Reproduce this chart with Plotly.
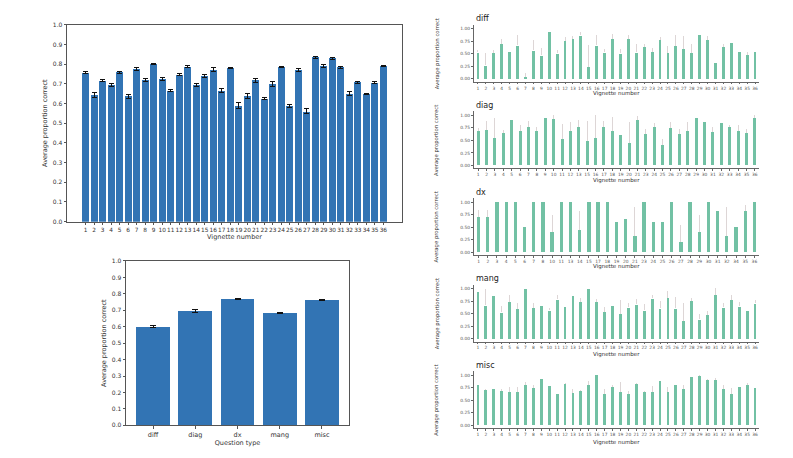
import plotly.graph_objects as go

# the page body keeps its default 8px margin, so the figure is drawn 16px smaller
# and every position below is given in page pixels and shifted by that margin
PAGE_W, PAGE_H = 793, 458
PAD = 8
W, H = PAGE_W - 2 * PAD, PAGE_H - 2 * PAD

# overall accuracy per vignette (top left)
vignettes = list(range(1, 37))
overall_mean = [0.758, 0.642, 0.718, 0.695, 0.760, 0.638, 0.776, 0.719, 0.801, 0.724,
                0.665, 0.748, 0.787, 0.693, 0.740, 0.773, 0.667, 0.781, 0.590, 0.640,
                0.719, 0.625, 0.701, 0.786, 0.588, 0.769, 0.560, 0.836, 0.790, 0.830,
                0.785, 0.652, 0.708, 0.648, 0.706, 0.792]
overall_err = [0.004, 0.012, 0.005, 0.006, 0.005, 0.010, 0.006, 0.006, 0.004, 0.006,
               0.004, 0.004, 0.005, 0.009, 0.010, 0.010, 0.009, 0.004, 0.015, 0.012,
               0.010, 0.004, 0.012, 0.004, 0.009, 0.008, 0.013, 0.005, 0.008, 0.005,
               0.005, 0.009, 0.006, 0.003, 0.004, 0.003]

# accuracy per question type (bottom left)
qtypes = ["diff", "diag", "dx", "mang", "misc"]
qtype_mean = [0.601, 0.693, 0.768, 0.685, 0.760]
qtype_err = [0.004, 0.009, 0.005, 0.004, 0.003]

# per question type, per vignette (right column)
diff_vig = list(range(1, 37))
diff_mean = [0.53, 0.27, 0.52, 0.70, 0.55, 0.67, 0.04, 0.57, 0.47, 0.95, 0.51, 0.76,
             0.80, 0.87, 0.24, 0.67, 0.53, 0.80, 0.51, 0.80, 0.53, 0.64, 0.54, 0.78,
             0.52, 0.66, 0.60, 0.52, 0.88, 0.78, 0.33, 0.64, 0.72, 0.55, 0.48, 0.55]
diff_err = [0.05, 0.25, 0.06, 0.09, 0, 0.20, 0.07, 0.20, 0.14, 0, 0.06, 0.07,
            0.06, 0.07, 0.44, 0.20, 0.06, 0.09, 0.08, 0.07, 0.16, 0.06, 0.08, 0.06,
            0.14, 0.21, 0.26, 0.18, 0, 0.08, 0, 0.06, 0, 0, 0.06, 0]

diag_vig = [1, 2, 3, 4, 5, 6, 7, 8, 9, 10, 11, 12, 13, 15, 16, 17, 18, 19, 20, 21,
            23, 24, 25, 26, 27, 28, 29, 30, 31, 32, 33, 34, 35, 36]
diag_mean = [0.68, 0.70, 0.54, 0.64, 0.91, 0.68, 0.76, 0.68, 0.95, 0.93, 0.52, 0.68,
             0.76, 0.49, 0.54, 0.76, 0.68, 0.60, 0.45, 0.91, 0.62, 0.77, 0.41, 0.74,
             0.62, 0.68, 0.95, 0.87, 0.66, 0.85, 0.76, 0.68, 0.64, 0.94]
diag_err = [0.07, 0.18, 0.41, 0.06, 0, 0.13, 0.12, 0.08, 0, 0.07, 0.31, 0.18,
            0.14, 0.39, 0.46, 0.12, 0.29, 0, 0.41, 0.07, 0.10, 0.08, 0.12, 0.12,
            0.10, 0.18, 0, 0, 0.10, 0, 0.04, 0.12, 0.08, 0.07]

dx_vig = [1, 2, 3, 4, 5, 6, 7, 8, 10, 11, 13, 14, 15, 17, 18, 19, 20, 21, 23, 24,
          25, 26, 27, 28, 29, 30, 31, 32, 34, 35, 36]
dx_mean = [0.71, 0.70, 1, 1, 1, 0.50, 1, 1, 0.40, 1, 1, 0.44, 1, 1, 1, 0.60, 0.66,
           0.33, 1, 0.60, 0.60, 1, 0.20, 1, 0.40, 1, 0.83, 0.33, 0.50, 0.83, 1]
dx_err = [0.14, 0.14, 0, 0, 0, 0, 0, 0, 0.34, 0, 0, 0.39, 0, 0, 0, 0, 0,
          0.58, 0, 0, 0, 0, 0.35, 0, 0.34, 0, 0, 0.58, 0, 0.11, 0]

mang_vig = list(range(1, 37))
mang_mean = [0.95, 0.67, 0.87, 0.53, 0.74, 0.60, 1.00, 0.62, 0.67, 0.57, 0.79, 0.64,
             0.87, 0.74, 1.00, 0.74, 0.54, 0.67, 0.50, 0.63, 0.69, 0.57, 0.81, 0.61,
             0.82, 0.61, 0.36, 0.76, 0.39, 0.48, 0.88, 0.63, 0.78, 0.65, 0.56, 0.71]
mang_err = [0, 0.33, 0, 0.13, 0.13, 0.11, 0, 0.09, 0, 0.04, 0.08, 0,
            0, 0.07, 0, 0.05, 0.10, 0, 0.28, 0.08, 0.11, 0.12, 0.06, 0.14,
            0.14, 0.22, 0.35, 0.06, 0.10, 0.08, 0.13, 0.08, 0.10, 0.08, 0, 0.06]

misc_vig = list(range(1, 37))
misc_mean = [0.80, 0.70, 0.72, 0.68, 0.67, 0.67, 0.80, 0.74, 0.93, 0.79, 0.63, 0.82,
             0.64, 0.68, 0.81, 1.00, 0.63, 0.77, 0.67, 0.63, 0.82, 0.66, 0.66, 0.89,
             0.66, 0.81, 0.72, 0.97, 0.99, 0.90, 0.91, 0.73, 0.63, 0.76, 0.81, 0.75]
misc_err = [0, 0.03, 0, 0.05, 0.09, 0.09, 0.07, 0.06, 0, 0, 0, 0.02,
            0.08, 0.03, 0.08, 0, 0.10, 0.03, 0.20, 0.06, 0.03, 0.03, 0.12, 0,
            0.10, 0, 0.08, 0, 0.01, 0.03, 0.03, 0.08, 0.11, 0, 0.03, 0]

panels = [
    ("diff", diff_vig, diff_mean, diff_err),
    ("diag", diag_vig, diag_mean, diag_err),
    ("dx", dx_vig, dx_mean, dx_err),
    ("mang", mang_vig, mang_mean, mang_err),
    ("misc", misc_vig, misc_mean, misc_err),
]

BLUE = "#3274b4"
GREEN = "#72c1a4"
FONT = "DejaVu Sans"


def px(x):
    return (x - PAD) / W


def py(y):
    return 1 - (y - PAD) / H


def xdom(a, b):
    return [px(a), px(b)]


def ydom(top, bottom):
    return [py(bottom), py(top)]


fig = go.Figure()
layout = {}
annotations = []

# --- top left: overall by vignette
fig.add_trace(go.Bar(
    x=vignettes, y=overall_mean, width=0.8, marker=dict(color=BLUE, line=dict(width=0)),
    error_y=dict(type="data", array=overall_err, color="#111", thickness=1, width=2.5),
    xaxis="x", yaxis="y", showlegend=False))
box_axis = dict(showline=True, mirror=True, linecolor="#555", linewidth=0.8,
                ticks="outside", ticklen=2.5, tickcolor="#555", showgrid=False,
                zeroline=False, tickfont=dict(size=6, color="#333"))
layout["xaxis"] = dict(box_axis, domain=xdom(67, 402), range=[-1.19, 38.19],
                       tickmode="array", tickvals=vignettes, tickangle=0, anchor="y",
                       tickfont=dict(size=5.8, color="#333"),
                       title=dict(text="Vignette number", font=dict(size=6.5, color="#333"),
                                  standoff=2))
layout["yaxis"] = dict(box_axis, domain=ydom(21, 221), range=[0, 1], dtick=0.1,
                       tickformat=".1f", anchor="x",
                       title=dict(text="Average proportion correct",
                                  font=dict(size=6.5, color="#333"), standoff=4))

# --- bottom left: by question type
fig.add_trace(go.Bar(
    x=qtypes, y=qtype_mean, width=0.8, marker=dict(color=BLUE, line=dict(width=0)),
    error_y=dict(type="data", array=qtype_err, color="#111", thickness=1, width=3),
    xaxis="x2", yaxis="y2", showlegend=False))
layout["xaxis2"] = dict(box_axis, domain=xdom(126, 349), range=[-0.64, 4.64],
                        anchor="y2", tickfont=dict(size=6.5, color="#333"),
                        title=dict(text="Question type", font=dict(size=6.5, color="#333"),
                                   standoff=2))
layout["yaxis2"] = dict(box_axis, domain=ydom(261, 428), range=[0, 1], dtick=0.1,
                        tickformat=".1f", anchor="x2",
                        title=dict(text="Average proportion correct",
                                   font=dict(size=6.5, color="#333"), standoff=4))

# --- right column: one panel per question type
xlab_gap = [15, 15, 15, 16, 17]
for k, (name, vig, mean, err) in enumerate(panels):
    n = k + 3
    xa, ya = f"x{n}", f"y{n}"
    zero = 76 + 88 * k
    fig.add_trace(go.Bar(
        x=[str(v) for v in vig], y=mean, width=0.36,
        marker=dict(color=GREEN, line=dict(width=0)),
        error_y=dict(type="data", symmetric=False, array=err,
                     arrayminus=[0] * len(err), color="#cfc4c4", thickness=0.7, width=0),
        xaxis=xa, yaxis=ya, showlegend=False))
    layout[f"xaxis{n}"] = dict(
        domain=xdom(474, 759), range=[-0.5, len(vig) - 0.5], type="category",
        anchor=ya, showline=True, linecolor="#666", linewidth=1, ticks="outside",
        ticklen=1.5, tickcolor="#666", showgrid=False, zeroline=False, tickangle=0,
        tickfont=dict(size=4.4, color="#555"))
    layout[f"yaxis{n}"] = dict(
        domain=ydom(zero - 55, zero + 3), range=[-0.06, 1.08], anchor=xa,
        tickvals=[0, 0.25, 0.5, 0.75, 1.0], tickformat=".2f",
        showline=True, linecolor="#666", linewidth=1, ticks="outside",
        ticklen=2, tickcolor="#666", showgrid=False, zeroline=False,
        tickfont=dict(size=4.4, color="#555"))
    annotations.append(dict(text=name, x=px(474), y=py(zero - 61), xref="paper",
                            yref="paper", xanchor="left", yanchor="middle",
                            showarrow=False, font=dict(size=8, color="#222")))
    annotations.append(dict(text="Vignette number", x=px(616.5),
                            y=py(zero + xlab_gap[k]), xref="paper", yref="paper",
                            xanchor="center", yanchor="middle", showarrow=False,
                            font=dict(size=5.5, color="#333")))
    annotations.append(dict(text="Average proportion correct", x=px(437),
                            y=py(zero - 25), xref="paper", yref="paper",
                            xanchor="center", yanchor="middle", textangle=-90,
                            showarrow=False, font=dict(size=5.3, color="#333")))

fig.update_layout(
    width=W, height=H, margin=dict(l=0, r=0, t=0, b=0),
    paper_bgcolor="white", plot_bgcolor="white",
    font=dict(family=FONT), bargap=0, annotations=annotations, **layout)

fig.write_html("out.html")
